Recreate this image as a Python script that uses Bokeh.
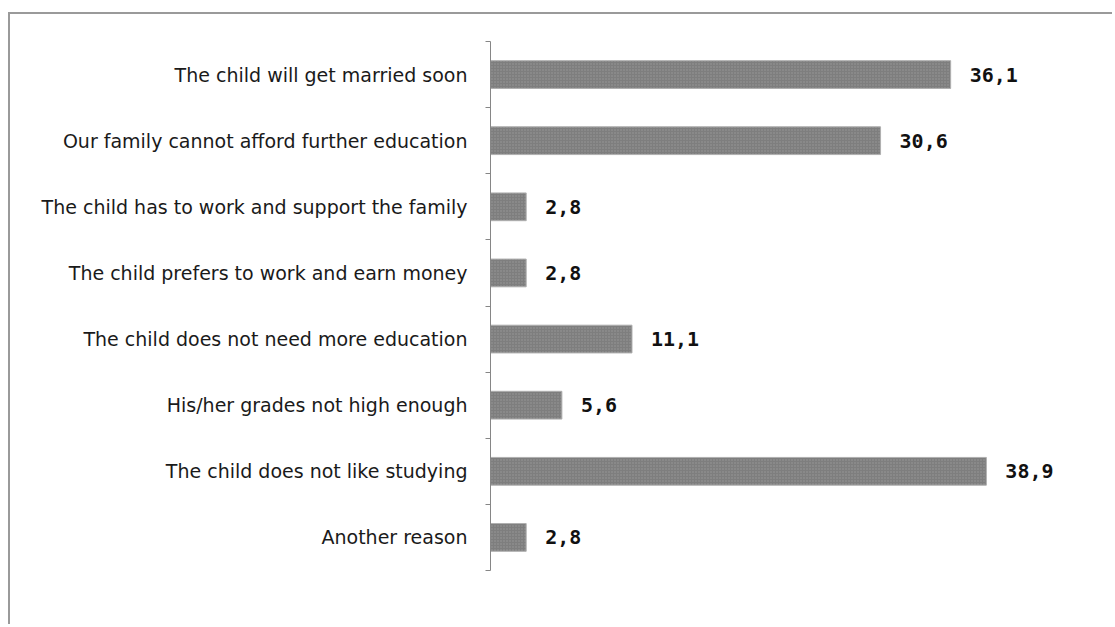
from bokeh.plotting import figure
from bokeh.models import Range1d, FixedTicker, ColumnDataSource
from bokeh.core.properties import value
from bokeh.embed import file_html
from bokeh.resources import INLINE

categories = [
    "The child will get married soon",
    "Our family cannot afford further education",
    "The child has to work and support the family",
    "The child prefers to work and earn money",
    "The child does not need more education",
    "His/her grades not high enough",
    "The child does not like studying",
    "Another reason",
]
values = [36.1, 30.6, 2.8, 2.8, 11.1, 5.6, 38.9, 2.8]

n = len(categories)
ypos = [n - 0.5 - i for i in range(n)]
labels = [f"{v:.1f}".replace(".", ",") for v in values]

src = ColumnDataSource(dict(y=ypos, v=values, lab=labels))

W, H = 1104, 612
p = figure(width=W, height=H, output_backend="svg", toolbar_location=None,
           x_range=Range1d(0, 46.6), y_range=Range1d(0, n),
           min_border_left=480, min_border_right=30,
           min_border_top=27, min_border_bottom=56)
p.outline_line_color = None
p.xgrid.visible = False
p.ygrid.visible = False
p.xaxis.visible = False
p.styles = {"margin-left": "8px", "margin-top": "12px",
            "border-left": "2px solid #9a9a9a", "border-top": "2px solid #9a9a9a"}

ax = p.yaxis[0]
ax.ticker = FixedTicker(ticks=ypos, minor_ticks=list(range(n + 1)))
ax.major_label_overrides = {y: c for y, c in zip(ypos, categories)}
ax.major_tick_line_color = None
ax.major_tick_out = 0
ax.major_tick_in = 0
ax.minor_tick_line_color = "#868686"
ax.minor_tick_out = 5
ax.minor_tick_in = 0
ax.axis_line_color = "#868686"
ax.axis_line_width = 1
ax.major_label_standoff = 18
ax.major_label_text_font = "DejaVu Sans"
ax.major_label_text_font_size = "19px"
ax.major_label_text_color = "#1a1a1a"

p.hbar(y="y", right="v", left=0, height=0.42, source=src,
       fill_color="#7e7e7e", line_color="#b0b0b0", line_width=1,
       hatch_pattern="dot", hatch_color="#999999", hatch_scale=3, hatch_weight=1)

p.text(x="v", y="y", text="lab", source=src, x_offset=19,
       text_baseline="middle", text_align="left",
       text_font=value("DejaVu Sans Mono"), text_font_style="bold",
       text_font_size="20px", text_color="#111111")

open("out.html", "w").write(file_html(p, INLINE))
